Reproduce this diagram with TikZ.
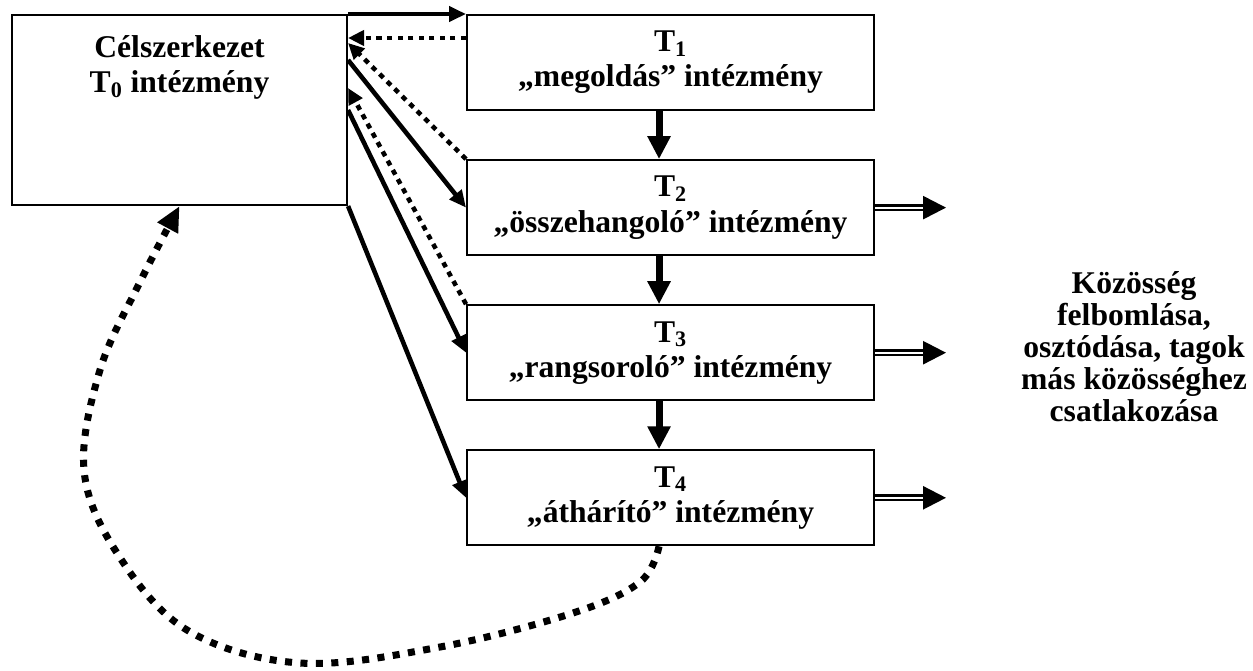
\documentclass[tikz,border=0pt]{standalone}
\usepackage{fontspec}
\setmainfont{Liberation Serif}
\usetikzlibrary{arrows.meta,positioning,calc}

\begin{document}
\begin{tikzpicture}
   [x=0.02cm, y=-0.02cm,
    every node/.style={font=\bfseries\fontsize{18}{20}\selectfont},
    box/.style={draw, line width=1.2pt, inner sep=0pt, align=center},
    tbox/.style={box, minimum width=8.14cm, minimum height=1.9cm},
    fwd/.style={line width=2.6pt, -{Triangle[length=0.34cm,width=0.3cm]}},
    back/.style={line width=2.6pt, dash pattern=on 3pt off 3pt, -{Triangle[length=0.32cm,width=0.3cm]}},
    chain/.style={line width=4pt, -{Triangle[length=0.46cm,width=0.44cm]}},
    leave/.style={double, double distance=1.2pt, line width=1.4pt, -{Triangle[length=0.46cm,width=0.46cm]}},
    loopback/.style={line width=4pt, dash pattern=on 4pt off 4.8pt, -{Triangle[length=0.5cm,width=0.44cm]}}]
   \useasboundingbox (0,0) rectangle (1253,670);
   \node[box, anchor=north west] (t0) at (11,14) {\parbox[c][3.8cm][t]{6.7cm}{\centering\vspace*{0.41cm}Célszerkezet\\T\textsubscript{0} intézmény}};
   \node[tbox, right=2.36cm of t0.north east, anchor=north west] (t1) {T\textsubscript{1}\\„megoldás” intézmény};
   \node[tbox, below=0.96cm of t1] (t2) {T\textsubscript{2}\\„összehangoló” intézmény};
   \node[tbox, below=0.96cm of t2] (t3) {T\textsubscript{3}\\„rangsoroló” intézmény};
   \node[tbox, below=0.96cm of t3] (t4) {T\textsubscript{4}\\„áthárító” intézmény};
   \node[align=center, font=\bfseries\fontsize{18}{18.2}\selectfont] (kozosseg) at (1134,347) {Közösség\\felbomlása,\\osztódása, tagok\\más közösséghez\\csatlakozása};
   % T0 <-> T1..T4
   \draw[fwd] (t0.north east) -- (t1.north west);
   \draw[back] ([yshift=-0.48cm]t1.north west) -- ([yshift=-0.48cm]t0.north east);
   \draw[back] (t2.north west) -- ([yshift=-0.58cm]t0.north east);
   \draw[fwd] ([yshift=-0.92cm]t0.north east) -- (t2.west);
   \draw[back] (t3.north west) -- ([yshift=-1.48cm]t0.north east);
   \draw[fwd] ([yshift=-1.92cm]t0.north east) -- (t3.west);
   \draw[fwd] (t0.south east) -- (t4.west);
   % chain downwards
   \foreach \a/\b in {t1/t2, t2/t3, t3/t4}
      \draw[chain] ([xshift=-0.23cm]\a.south) -- ([xshift=-0.23cm]\b.north);
   % leaving the community
   \foreach \t in {t2,t3,t4} {
      \coordinate[right=1.42cm of \t.east] (\t-out);
      \draw[leave] (\t.east) -- (\t-out);
   }
   % back to T0
   \draw[loopback] plot[smooth, tension=0.6] coordinates {([xshift=-0.23cm]t4.south) (640,582) (573,613) (440,647) (300,663) (187,630) (117,553) (84,470) (100,370) (140,282) (t0.south)};
\end{tikzpicture}
\end{document}
